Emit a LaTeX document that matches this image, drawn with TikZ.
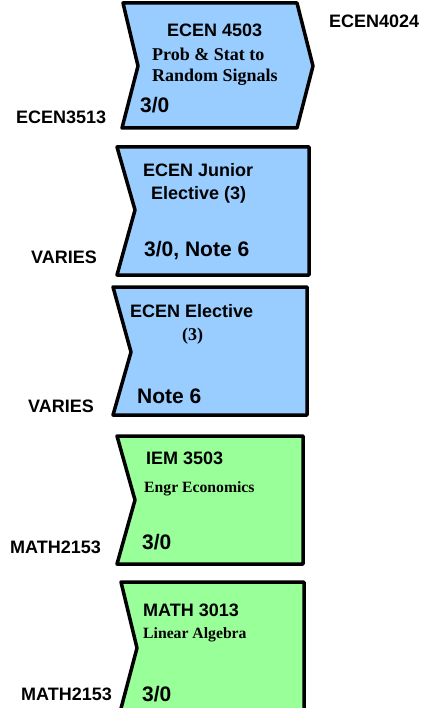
\documentclass[tikz,border=0pt]{standalone}
\usepackage{fontspec}
\setmainfont{Liberation Sans}
\newfontfamily\serifbf{Liberation Serif}
\begin{document}
\begin{tikzpicture}[x=1pt,y=-1pt,
  course/.style={draw=black,line width=3.5pt,line join=round},
  bluecourse/.style={course,fill=courseblue},
  greencourse/.style={course,fill=coursegreen},
  lbl/.style={anchor=base west,inner sep=0pt,font=\fontsize{18}{20}\selectfont\bfseries},
  big/.style={anchor=base west,inner sep=0pt,font=\fontsize{21}{23}\selectfont\bfseries},
  title/.style={anchor=base west,inner sep=0pt,font=\fontsize{18}{20}\selectfont\serifbf\bfseries},
  subtitle/.style={anchor=base west,inner sep=0pt,font=\fontsize{15.7}{18}\selectfont\serifbf\bfseries}]
\definecolor{courseblue}{RGB}{153,204,255}
\definecolor{coursegreen}{RGB}{153,255,153}
\useasboundingbox (0,0) rectangle (421,708);
\clip (0,0) rectangle (421,708);

% course blocks
\draw[bluecourse] (123,3) -- (297,3) -- (313,66) -- (297,128) -- (122,128) -- (138,66) -- cycle;
\draw[bluecourse] (117,147) -- (309,147) -- (309,275) -- (117,275) -- (135,210) -- cycle;
\draw[bluecourse] (113,287) -- (307,287) -- (307,415) -- (113,415) -- (131,352) -- cycle;
\draw[greencourse] (117,436) -- (303,436) -- (303,564) -- (117,564) -- (135,500) -- cycle;
\draw[greencourse] (121,582) -- (304,582) -- (304,716) -- (119,716) -- (137,648) -- cycle;

% ECEN 4503
\node[lbl] (c1) at (167,37) {ECEN 4503};
\node[title] (c1a) at (152,61) {Prob \& Stat to};
\node[title] (c1b) at (152,82) {Random Signals};
\node[big] (c1h) at (140,113) {3/0};
\node[lbl] (c1next) at (329,28) {ECEN4024};
\node[lbl] (c1pre) at (16,124) {ECEN3513};

% ECEN junior elective
\node[lbl] (c2) at (143,177) {ECEN Junior};
\node[lbl] (c2a) at (151,200) {Elective (3)};
\node[big] (c2h) at (144,257) {3/0, Note 6};
\node[lbl] (c2pre) at (31,263) {VARIES};

% ECEN elective
\node[lbl] (c3) at (130,317) {ECEN Elective};
\node[title] (c3a) at (182,340) {(3)};
\node[big] (c3h) at (137,403) {Note 6};
\node[lbl] (c3pre) at (28,412) {VARIES};

% IEM 3503
\node[lbl] (c4) at (146,464) {IEM 3503};
\node[subtitle] (c4a) at (144,492) {Engr Economics};
\node[big] (c4h) at (142,549) {3/0};
\node[lbl] (c4pre) at (10,553) {MATH2153};

% MATH 3013
\node[lbl] (c5) at (143,616) {MATH 3013};
\node[subtitle] (c5a) at (143,638) {Linear Algebra};
\node[big] (c5h) at (142,701) {3/0};
\node[lbl] (c5pre) at (21,700) {MATH2153};
\end{tikzpicture}
\end{document}
